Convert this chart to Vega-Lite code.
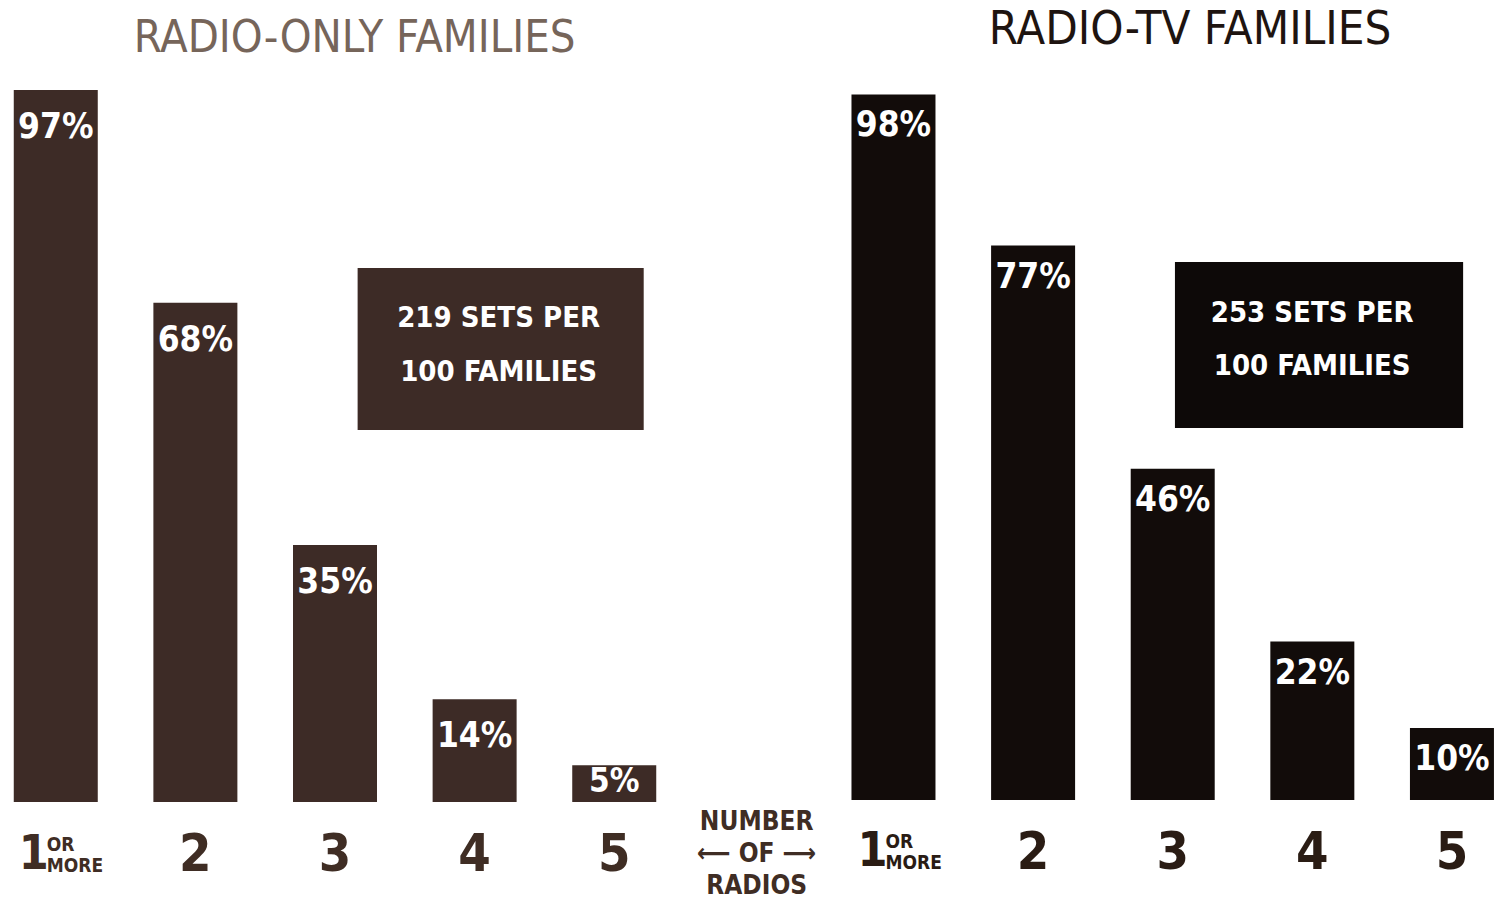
{
  "$schema": "https://vega.github.io/schema/vega-lite/v6.json",
  "width": 1498,
  "height": 903,
  "autosize": {"type": "none"},
  "padding": 0,
  "background": "#ffffff",
  "config": {"view": {"stroke": null}, "font": "DejaVu Sans Condensed, DejaVu Sans, sans-serif"},
  "datasets": {
    "bars": [
      {"group": "Radio-only", "slot": 0, "label": "1", "sub": "OR\nMORE", "pct": 97, "pctLabel": "97%"},
      {"group": "Radio-only", "slot": 1, "label": "2", "pct": 68, "pctLabel": "68%"},
      {"group": "Radio-only", "slot": 2, "label": "3", "pct": 35, "pctLabel": "35%"},
      {"group": "Radio-only", "slot": 3, "label": "4", "pct": 14, "pctLabel": "14%"},
      {"group": "Radio-only", "slot": 4, "label": "5", "pct": 5, "pctLabel": "5%"},
      {"group": "Radio-TV", "slot": 6, "label": "1", "sub": "OR\nMORE", "pct": 98, "pctLabel": "98%"},
      {"group": "Radio-TV", "slot": 7, "label": "2", "pct": 77, "pctLabel": "77%"},
      {"group": "Radio-TV", "slot": 8, "label": "3", "pct": 46, "pctLabel": "46%"},
      {"group": "Radio-TV", "slot": 9, "label": "4", "pct": 22, "pctLabel": "22%"},
      {"group": "Radio-TV", "slot": 10, "label": "5", "pct": 10, "pctLabel": "10%"}
    ]
  },
  "resolve": {"scale": {"y": "independent"}},
  "layer": [
    {
      "data": {"name": "bars"},
      "transform": [{"filter": "datum.group === 'Radio-only'"}],
      "layer": [
        {
          "mark": {"type": "bar", "size": 84, "color": "#3d2b26"},
          "encoding": {
            "x": {"field": "slot", "type": "quantitative", "scale": {"domain": [-0.3636, 10.294], "nice": false, "zero": false}, "axis": null},
            "y": {"field": "pct", "type": "quantitative", "scale": {"domain": [-13.76, 109.26], "nice": false}, "axis": null}
          }
        },
        {
          "transform": [{"filter": "datum.pct > 6"}],
          "mark": {"type": "text", "color": "#ffffff", "fontSize": 35, "fontWeight": "bold", "baseline": "middle", "dy": 37},
          "encoding": {"x": {"field": "slot", "type": "quantitative"}, "y": {"field": "pct", "type": "quantitative"}, "text": {"field": "pctLabel"}}
        },
        {
          "transform": [{"filter": "datum.pct <= 6"}],
          "mark": {"type": "text", "color": "#ffffff", "fontSize": 33, "fontWeight": "bold", "baseline": "middle", "dy": 17},
          "encoding": {"x": {"field": "slot", "type": "quantitative"}, "y": {"field": "pct", "type": "quantitative"}, "text": {"field": "pctLabel"}}
        },
        {
          "transform": [{"filter": "datum.label !== '1'"}],
          "mark": {"type": "text", "color": "#3f2d24", "fontSize": 52, "fontWeight": "bold", "baseline": "middle"},
          "encoding": {"x": {"field": "slot", "type": "quantitative"}, "y": {"datum": -7.22}, "text": {"field": "label"}}
        },
        {
          "transform": [{"filter": "datum.label === '1'"}],
          "mark": {"type": "text", "color": "#3f2d24", "fontSize": 48, "fontWeight": "bold", "baseline": "middle", "dx": -22},
          "encoding": {"x": {"field": "slot", "type": "quantitative"}, "y": {"datum": -7.22}, "text": {"field": "label"}}
        },
        {
          "transform": [{"filter": "isValid(datum.sub)"}],
          "mark": {"type": "text", "color": "#3f2d24", "fontSize": 19, "fontWeight": "bold", "baseline": "middle", "align": "left", "dx": -9, "lineBreak": "\n", "lineHeight": 21},
          "encoding": {"x": {"field": "slot", "type": "quantitative"}, "y": {"datum": -5.86}, "text": {"field": "sub"}}
        },
        {
          "transform": [{"filter": "datum.slot === 0"}],
          "mark": {"type": "rect", "color": "#3d2b26"},
          "encoding": {"x": {"datum": 2.162}, "x2": {"datum": 4.211}, "y": {"datum": 72.75}, "y2": {"datum": 50.68}}
        },
        {
          "transform": [{"filter": "datum.slot === 0"}],
          "mark": {"type": "text", "color": "#ffffff", "fontSize": 29, "fontWeight": "bold", "baseline": "middle", "lineBreak": "\n", "lineHeight": 54},
          "encoding": {"x": {"datum": 3.172}, "y": {"datum": 65.94}, "text": {"value": "219 SETS PER\n100 FAMILIES"}}
        },
        {
          "transform": [{"filter": "datum.slot === 0"}],
          "mark": {"type": "text", "color": "#76655a", "fontSize": 45, "baseline": "middle"},
          "encoding": {"x": {"datum": 2.14}, "y": {"datum": 104.09}, "text": {"value": "RADIO-ONLY FAMILIES"}}
        },
        {
          "transform": [{"filter": "datum.slot === 0"}],
          "mark": {"type": "text", "color": "#3f2d24", "fontSize": 26, "fontWeight": "bold", "baseline": "middle", "lineBreak": "\n", "lineHeight": 32},
          "encoding": {"x": {"datum": 5.02}, "y": {"datum": -2.72}, "text": {"value": "NUMBER\n⟵ OF ⟶\nRADIOS"}}
        }
      ]
    },
    {
      "data": {"name": "bars"},
      "transform": [{"filter": "datum.group === 'Radio-TV'"}],
      "layer": [
        {
          "mark": {"type": "bar", "size": 84, "color": "#120c0a"},
          "encoding": {
            "x": {"field": "slot", "type": "quantitative"},
            "y": {"field": "pct", "type": "quantitative", "scale": {"domain": [-14.31, 111.11], "nice": false}, "axis": null}
          }
        },
        {
          "mark": {"type": "text", "color": "#ffffff", "fontSize": 35, "fontWeight": "bold", "baseline": "middle", "dy": 31},
          "encoding": {"x": {"field": "slot", "type": "quantitative"}, "y": {"field": "pct", "type": "quantitative"}, "text": {"field": "pctLabel"}}
        },
        {
          "transform": [{"filter": "datum.label !== '1'"}],
          "mark": {"type": "text", "color": "#2a1c14", "fontSize": 52, "fontWeight": "bold", "baseline": "middle"},
          "encoding": {"x": {"field": "slot", "type": "quantitative"}, "y": {"datum": -7.36}, "text": {"field": "label"}}
        },
        {
          "transform": [{"filter": "datum.label === '1'"}],
          "mark": {"type": "text", "color": "#2a1c14", "fontSize": 48, "fontWeight": "bold", "baseline": "middle", "dx": -21},
          "encoding": {"x": {"field": "slot", "type": "quantitative"}, "y": {"datum": -7.22}, "text": {"field": "label"}}
        },
        {
          "transform": [{"filter": "isValid(datum.sub)"}],
          "mark": {"type": "text", "color": "#2a1c14", "fontSize": 19, "fontWeight": "bold", "baseline": "middle", "align": "left", "dx": -8, "lineBreak": "\n", "lineHeight": 21},
          "encoding": {"x": {"field": "slot", "type": "quantitative"}, "y": {"datum": -5.83}, "text": {"field": "sub"}}
        },
        {
          "transform": [{"filter": "datum.slot === 6"}],
          "mark": {"type": "rect", "color": "#0d0908"},
          "encoding": {"x": {"datum": 8.016}, "x2": {"datum": 10.08}, "y": {"datum": 74.72}, "y2": {"datum": 51.67}}
        },
        {
          "transform": [{"filter": "datum.slot === 6"}],
          "mark": {"type": "text", "color": "#ffffff", "fontSize": 29, "fontWeight": "bold", "baseline": "middle", "lineBreak": "\n", "lineHeight": 53},
          "encoding": {"x": {"datum": 8.999}, "y": {"datum": 67.64}, "text": {"value": "253 SETS PER\n100 FAMILIES"}}
        },
        {
          "transform": [{"filter": "datum.slot === 6"}],
          "mark": {"type": "text", "color": "#1e1410", "fontSize": 47, "baseline": "middle"},
          "encoding": {"x": {"datum": 8.124}, "y": {"datum": 106.94}, "text": {"value": "RADIO-TV FAMILIES"}}
        }
      ]
    }
  ]
}
